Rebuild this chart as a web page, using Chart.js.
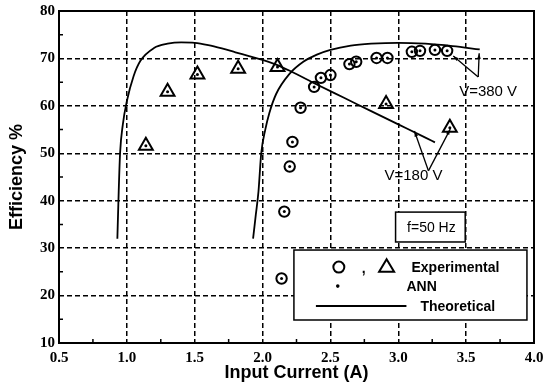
<!DOCTYPE html>
<html>
<head>
<meta charset="utf-8">
<script src="https://cdn.jsdelivr.net/npm/chart.js@4/dist/chart.umd.min.js"></script>
<style>
  html, body { margin: 0; padding: 0; background: #fff; }
  #wrap { width: 544px; height: 388px; }
</style>
</head>
<body>
<div id="wrap"><canvas id="myChart" width="544" height="388"></canvas></div>
<script>
// experimental points, V=380 V (circles)
const v380X = [2.14, 2.16, 2.20, 2.22, 2.28, 2.38, 2.43, 2.50, 2.64, 2.69, 2.84, 2.92, 3.10, 3.16, 3.27, 3.36];
const v380Y = [23.6, 37.7, 47.2, 52.4, 59.6, 64.0, 65.9, 66.5, 68.8, 69.3, 70.1, 70.1, 71.4, 71.6, 71.8, 71.6];
// experimental points, V=180 V (triangles)
const v180X = [1.14, 1.30, 1.52, 1.82, 2.11, 2.91, 3.38];
const v180Y = [51.6, 63.0, 66.6, 67.8, 68.2, 60.4, 55.4];
// theoretical curves
const theo180X = [0.93, 0.94, 0.95, 0.97, 1.00, 1.05, 1.10, 1.20, 1.30, 1.40, 1.50, 1.60, 1.70, 1.80, 1.90, 2.00, 2.10, 2.20, 2.40, 2.60, 2.80, 3.00, 3.20, 3.27];
const theo180Y = [32.0, 42.0, 50.0, 56.0, 61.0, 66.3, 69.5, 72.2, 73.1, 73.4, 73.3, 72.8, 72.1, 71.3, 70.5, 69.7, 68.7, 67.4, 64.5, 61.7, 58.9, 56.1, 53.3, 52.3];
const theo380X = [1.93, 1.95, 1.97, 1.99, 2.02, 2.05, 2.10, 2.20, 2.30, 2.40, 2.50, 2.65, 2.80, 3.00, 3.20, 3.40, 3.60];
const theo380Y = [32.0, 37.0, 42.0, 50.0, 55.0, 58.5, 62.5, 66.8, 69.3, 70.8, 71.8, 72.7, 73.1, 73.3, 73.1, 72.6, 71.9];

const xTicks = [0.5, 1.0, 1.5, 2.0, 2.5, 3.0, 3.5, 4.0];
const yTicks = [10, 20, 30, 40, 50, 60, 70, 80];

const pts = (xs, ys) => xs.map((x, i) => ({ x: x, y: ys[i] }));

const sansFont = '"Liberation Sans", Arial, sans-serif';
const serifFont = '"Liberation Serif", "Times New Roman", serif';

// labels + arrows, in data units
const notes = [
  { text: 'V=380 V', at: [3.662, 62.9], from: [3.589, 66.1], tips: [[3.405, 70.5], [3.596, 71.1]] },
  { text: 'V=180 V', at: [3.112, 45.2], from: [3.222, 46.3], tips: [[3.119, 54.7], [3.383, 55.1]] }
];

function arrow(ctx, x1, y1, x2, y2) {
  ctx.beginPath();
  ctx.moveTo(x1, y1);
  ctx.lineTo(x2, y2);
  ctx.stroke();
  const a = Math.atan2(y2 - y1, x2 - x1);
  ctx.beginPath();
  ctx.moveTo(x2, y2);
  ctx.lineTo(x2 - 6 * Math.cos(a - 0.3), y2 - 6 * Math.sin(a - 0.3));
  ctx.lineTo(x2 - 6 * Math.cos(a + 0.3), y2 - 6 * Math.sin(a + 0.3));
  ctx.closePath();
  ctx.fill();
}

const decor = {
  id: 'decor',
  afterDatasetsDraw(chart) {
    const ctx = chart.ctx;
    const xs = chart.scales.x, ys = chart.scales.y;
    const X = v => xs.getPixelForValue(v);
    const Y = v => ys.getPixelForValue(v);
    const area = chart.chartArea;
    ctx.save();
    ctx.strokeStyle = '#000';
    ctx.fillStyle = '#000';

    // minor ticks
    ctx.lineWidth = 1.5;
    ctx.beginPath();
    for (let v = 15; v < 80; v += 10) {
      ctx.moveTo(area.left, Y(v)); ctx.lineTo(area.left + 4, Y(v));
    }
    for (let v = 0.75; v < 4; v += 0.5) {
      ctx.moveTo(X(v), area.bottom); ctx.lineTo(X(v), area.bottom - 4);
    }
    ctx.stroke();

    // frame
    ctx.lineWidth = 2;
    ctx.strokeRect(area.left, area.top, area.right - area.left, area.bottom - area.top);

    // annotations
    ctx.lineWidth = 1.3;
    ctx.font = '15px ' + sansFont;
    ctx.textAlign = 'center';
    ctx.textBaseline = 'middle';
    notes.forEach(n => {
      n.tips.forEach(t => arrow(ctx, X(n.from[0]), Y(n.from[1]), X(t[0]), Y(t[1])));
      ctx.fillText(n.text, X(n.at[0]), Y(n.at[1]));
    });

    // f = 50 Hz box
    let bx = X(2.98), by = Y(37.6), bw = X(3.493) - bx, bh = Y(31.3) - by;
    ctx.fillStyle = '#fff';
    ctx.fillRect(bx, by, bw, bh);
    ctx.lineWidth = 1.5;
    ctx.strokeRect(bx, by, bw, bh);
    ctx.fillStyle = '#000';
    ctx.font = '14px ' + sansFont;
    ctx.fillText('f=50 Hz', X(3.244), Y(34.2));

    // legend box
    bx = X(2.231); by = Y(29.6); bw = X(3.948) - bx; bh = Y(14.85) - by;
    ctx.fillStyle = '#fff';
    ctx.fillRect(bx, by, bw, bh);
    ctx.lineWidth = 1.5;
    ctx.strokeRect(bx, by, bw, bh);
    ctx.fillStyle = '#000';
    ctx.lineWidth = 2;
    ctx.beginPath();
    ctx.arc(X(2.562), Y(26.0), 5.5, 0, Math.PI * 2);
    ctx.stroke();
    const tx = X(2.914), ty = Y(26.2);
    ctx.beginPath();
    ctx.moveTo(tx, ty - 7);
    ctx.lineTo(tx + 7.5, ty + 5.5);
    ctx.lineTo(tx - 7.5, ty + 5.5);
    ctx.closePath();
    ctx.stroke();
    ctx.font = 'bold 14px ' + sansFont;
    ctx.fillText(',', X(2.745), Y(25.6));
    ctx.beginPath();
    ctx.arc(X(2.554), Y(22.0), 1.8, 0, Math.PI * 2);
    ctx.fill();
    ctx.lineWidth = 1.8;
    ctx.beginPath();
    ctx.moveTo(X(2.393), Y(17.8)); ctx.lineTo(X(3.06), Y(17.8));
    ctx.stroke();
    ctx.textAlign = 'left';
    ctx.fillText('Experimental', X(3.097), Y(25.8));
    ctx.fillText('ANN', X(3.06), Y(21.8));
    ctx.fillText('Theoretical', X(3.163), Y(17.6));
    ctx.restore();
  }
};

const config = {
  type: 'scatter',
  data: {
    datasets: [
      {
        label: 'Theoretical 180',
        data: pts(theo180X, theo180Y),
        showLine: true,
        borderColor: '#000',
        borderWidth: 1.8,
        pointRadius: 0,
        cubicInterpolationMode: 'monotone'
      },
      {
        label: 'Theoretical 380',
        data: pts(theo380X, theo380Y),
        showLine: true,
        borderColor: '#000',
        borderWidth: 1.8,
        pointRadius: 0,
        cubicInterpolationMode: 'monotone'
      },
      {
        label: 'Experimental 380',
        data: pts(v380X, v380Y),
        pointStyle: 'circle',
        pointRadius: 5.2,
        borderWidth: 2,
        borderColor: '#000',
        backgroundColor: 'rgba(0,0,0,0)'
      },
      {
        label: 'Experimental 180',
        data: pts(v180X, v180Y),
        pointStyle: 'triangle',
        pointRadius: 8,
        borderWidth: 2,
        borderColor: '#000',
        backgroundColor: 'rgba(0,0,0,0)'
      },
      {
        label: 'ANN 380',
        data: pts(v380X, v380Y),
        pointRadius: 1.5,
        borderWidth: 0,
        backgroundColor: '#000'
      },
      {
        label: 'ANN 180',
        data: pts(v180X, v180Y),
        pointRadius: 1.5,
        borderWidth: 0,
        backgroundColor: '#000'
      }
    ]
  },
  options: {
    responsive: false,
    animation: false,
    events: [],
    layout: { padding: { top: 11, right: 8, left: 0, bottom: 0 } },
    plugins: { legend: { display: false }, tooltip: { enabled: false } },
    scales: {
      x: {
        type: 'linear',
        min: 0.5,
        max: 4.0,
        afterFit(s) { s.height = 45; s.paddingLeft = 0; s.paddingRight = 0; },
        afterBuildTicks(s) { s.ticks = xTicks.map(v => ({ value: v })); },
        ticks: {
          padding: 6,
          color: '#000',
          font: { family: serifFont, size: 15, weight: 'bold' },
          callback: v => v.toFixed(1)
        },
        grid: {
          drawTicks: false,
          lineWidth: 1.5,
          color: c => (c.tick && (c.tick.value <= 0.5 || c.tick.value >= 4)) ? 'rgba(0,0,0,0)' : '#000'
        },
        border: { display: false, dash: [5, 3] },
        title: {
          display: true,
          text: 'Input Current (A)',
          color: '#000',
          font: { family: sansFont, size: 18, weight: 'bold' },
          padding: { top: 0, bottom: 4 }
        }
      },
      y: {
        type: 'linear',
        min: 10,
        max: 80,
        afterFit(s) { s.width = 59; s.paddingTop = 0; s.paddingBottom = 0; },
        afterBuildTicks(s) { s.ticks = yTicks.map(v => ({ value: v })); },
        ticks: {
          padding: 4,
          color: '#000',
          font: { family: serifFont, size: 15, weight: 'bold' }
        },
        grid: {
          drawTicks: false,
          lineWidth: 1.5,
          color: c => (c.tick && (c.tick.value <= 10 || c.tick.value >= 80)) ? 'rgba(0,0,0,0)' : '#000'
        },
        border: { display: false, dash: [5, 3] },
        title: {
          display: true,
          text: 'Efficiency %',
          color: '#000',
          font: { family: sansFont, size: 18, weight: 'bold' },
          padding: { top: 6, bottom: 0 }
        }
      }
    }
  },
  plugins: [decor]
};

const myChart = new Chart('myChart', config);
</script>
</body>
</html>
